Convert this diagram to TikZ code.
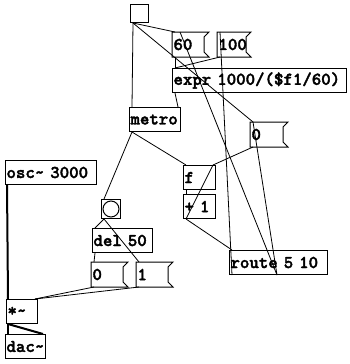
\documentclass[tikz,border=0pt]{standalone}
\usepackage{fontspec}
\newfontfamily\pdfont{lmmonolt10-bold.otf}[FakeBold=2]
\usetikzlibrary{positioning}

\begin{document}
\begin{tikzpicture}[x=1pt, y=-1pt,
  obj/.style={draw, line width=1pt, anchor=north west, inner xsep=1pt, inner ysep=0pt,
              minimum height=24pt, text width=#1, align=left,
              font={\pdfont\fontsize{18pt}{20pt}\selectfont}},
  msg/.style={obj={#1}, draw=none},
  gui/.style={draw, line width=1pt, anchor=north west, inner sep=0pt, minimum size=#1},
  wire/.style={line width=0.8pt},
  sig/.style={line width=2pt},
]
  \useasboundingbox (0,0) rectangle (350,364);

  % tempo
  \node[gui=18pt] (tgl) at (130,4) {};
  \node[msg=34pt] (m60) at (172,32) {60};
  \node[msg=31pt] (m100) at (217,32) {100};
  \node[obj=172pt] (expr) at (172,68) {expr 1000/(\$f1/60)};
  \node[obj=49pt] (metro) at (129,107) {metro};
  \node[msg=35pt] (mzero) at (250,122) {0};

  % counter
  \node[obj=30pt] (cnt) at (183,165) {f};
  \node[obj=30pt] (inc) at (183,194) {+ 1};
  \node[obj=96pt] (route) at (229,250) {route 5 10};

  % envelope
  \node[gui=19pt] (bng) at (101,199) {};
  \draw[line width=1pt] (bng.center) circle (8pt);
  \node[obj=58pt] (del) at (92,228) {del 50};
  \node[msg=34pt] (mlow) at (91,262) {0};
  \node[msg=34pt] (mhigh) at (136,262) {1};

  % audio
  \node[obj=89pt] (osc) at (5,160) {osc\textasciitilde{} 3000};
  \node[obj=29pt] (mul) at (6,299) {*\textasciitilde};
  \node[obj=38pt] (dac) at (5,334) {dac\textasciitilde};

  % message outlines
  \foreach \m in {m60,m100,mzero,mlow,mhigh}
    \draw[line width=1pt] (\m.north west) -- (\m.north east)
      -- ([shift={(-5pt,-5pt)}]\m.north east) -- ([shift={(-5pt,5pt)}]\m.south east)
      -- (\m.south east) -- (\m.south west) -- cycle;

  % control wires
  \draw[wire] ([xshift=3pt]tgl.south west) -- ([xshift=3pt]metro.north west);
  \draw[wire] ([xshift=3pt]tgl.south west) -- ([xshift=3pt]m60.north west);
  \draw[wire] ([xshift=3pt]tgl.south west) -- ([xshift=3pt]mzero.north west);
  \draw[wire] ([xshift=3pt]m60.south west) -- ([xshift=3pt]expr.north west);
  \draw[wire] ([xshift=3pt]m100.south west) -- ([xshift=3pt]expr.north west);
  \draw[wire] ([xshift=3pt]expr.south west) -- ([xshift=-3pt]metro.north east);
  \draw[wire] ([xshift=3pt]metro.south west) -- ([xshift=3pt]cnt.north west);
  \draw[wire] ([xshift=3pt]metro.south west) -- ([xshift=3pt]bng.north west);
  \draw[wire] ([xshift=3pt]cnt.south west) -- ([xshift=3pt]inc.north west);
  \draw[wire] ([xshift=3pt]inc.south west) -- ([xshift=-3pt]cnt.north east);
  \draw[wire] ([xshift=3pt]mzero.south west) -- ([xshift=-3pt]cnt.north east);
  \draw[wire] ([xshift=3pt]inc.south west) -- ([xshift=3pt]route.north west);
  \draw[wire] ([xshift=3pt]route.south west) -- ([xshift=3pt]m100.north west);
  \draw[wire] ([xshift=48pt]route.south west) -- ([xshift=8pt]m60.north west);
  \draw[wire] ([xshift=48pt]route.south west) -- ([xshift=3pt]mzero.north west);
  \draw[wire] ([xshift=3pt]bng.south west) -- ([xshift=3pt]del.north west);
  \draw[wire] ([xshift=3pt]bng.south west) -- ([xshift=3pt]mhigh.north west);
  \draw[wire] ([xshift=3pt]del.south west) -- ([xshift=3pt]mlow.north west);
  \draw[wire] ([xshift=3pt]mlow.south west) -- ([xshift=-3pt]mul.north east);
  \draw[wire] ([xshift=3pt]mhigh.south west) -- ([xshift=-3pt]mul.north east);

  % signal wires
  \draw[sig] ([xshift=2pt]osc.south west) -- ([xshift=2pt]mul.north west);
  \draw[sig] ([xshift=2pt]mul.south west) -- ([xshift=3pt]dac.north west);
  \draw[sig] ([xshift=2pt]mul.south west) -- ([xshift=-3pt]dac.north east);
\end{tikzpicture}
\end{document}
